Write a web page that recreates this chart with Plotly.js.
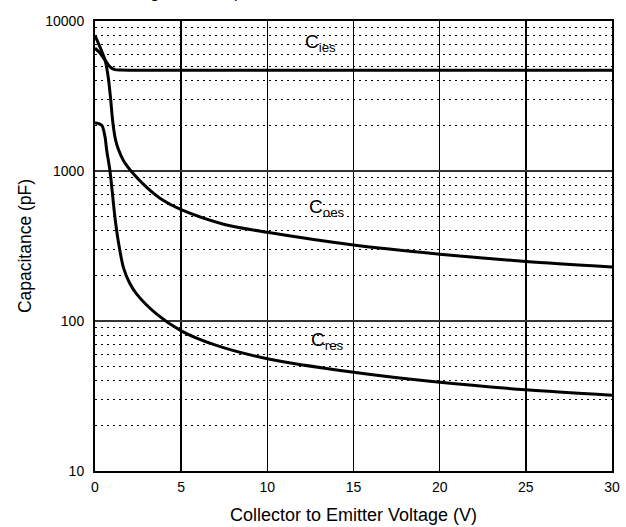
<!DOCTYPE html>
<html>
<head>
<meta charset="utf-8">
<script src="https://cdn.plot.ly/plotly-3.0.1.min.js"></script>
<style>html,body{margin:0;padding:0;background:#fff}#chart{width:626px;height:527px}</style>
</head>
<body>
<div id="chart"></div>
<script>
// Collector-to-emitter voltage (V) and capacitance (pF)
const ciesV = [0, 0.3, 0.58, 0.87, 1.16, 1.5, 2, 5, 10, 15, 20, 25, 30];
const ciesC = [6600, 6100, 5500, 4950, 4740, 4710, 4700, 4700, 4700, 4700, 4700, 4700, 4700];

const coesV = [0, 0.29, 0.58, 0.77, 0.91, 1.0, 1.1, 1.2, 1.35, 1.64, 2.2, 3.0, 3.95, 5, 7.46, 10, 15, 20, 25, 30];
const coesC = [8000, 6700, 5500, 4200, 3000, 2300, 1850, 1600, 1400, 1180, 966, 779, 638, 552, 442, 390, 321, 279, 249, 229];

const cresV = [0, 0.39, 0.58, 0.68, 0.87, 1.16, 1.35, 1.65, 2.0, 2.42, 3.58, 5, 7, 10, 15, 20, 25, 30];
const cresC = [2100, 2020, 1690, 1370, 1000, 488, 340, 227, 180, 151, 111, 86, 69, 56, 45.5, 39, 34.8, 32];

const xTicks = [0, 5, 10, 15, 20, 25, 30];
const yTicks = [10, 100, 1000, 10000];
const yTickText = ['10', '100', '1000', '10000'];

const titleText = 'Figure 13. Capacitance Characteristics';
const xTitle = 'Collector to Emitter Voltage (V)';
const yTitle = 'Capacitance (pF)';
const curveLabels = ['C<sub>ies</sub>', 'C<sub>oes</sub>', 'C<sub>res</sub>'];

const FONT = '"Liberation Sans", Arial, sans-serif';
const line = {color: '#000', width: 3, shape: 'spline', smoothing: 0.8};

const traces = [
  {x: ciesV, y: ciesC, mode: 'lines', line: line, hoverinfo: 'skip'},
  {x: coesV, y: coesC, mode: 'lines', line: line, hoverinfo: 'skip'},
  {x: cresV, y: cresC, mode: 'lines', line: line, hoverinfo: 'skip'}
];

// white label boxes (paper coordinates) and label centres
const boxes = [
  [0.3926, 0.4778, 0.9127, 0.997],
  [0.3965, 0.4990, 0.5504, 0.6238],
  [0.3965, 0.4971, 0.2504, 0.3304]
];
const labelPos = [[0.437, 0.952], [0.449, 0.585], [0.449, 0.289]];

const shapes = boxes.map(b => ({
  type: 'rect', xref: 'paper', yref: 'paper', x0: b[0], x1: b[1], y0: b[2], y1: b[3],
  fillcolor: '#fff', line: {width: 0}, layer: 'between'
}));

const annotations = curveLabels.map((t, i) => ({
  text: t, xref: 'paper', yref: 'paper', x: labelPos[i][0], y: labelPos[i][1],
  showarrow: false, xanchor: 'center', yanchor: 'middle',
  font: {family: FONT, size: 19, color: '#000'}
}));
annotations.push({
  text: titleText, xref: 'paper', yref: 'paper', x: 0.077, y: 1.063,
  xanchor: 'left', yanchor: 'middle', showarrow: false,
  font: {family: FONT, size: 16, color: '#000'}
});

const layout = {
  width: 626, height: 527,
  margin: {l: 95, r: 14, t: 21, b: 56, pad: 0},
  paper_bgcolor: '#fff', plot_bgcolor: '#fff',
  showlegend: false,
  font: {family: FONT, size: 14, color: '#000'},
  xaxis: {
    range: [0, 30], tickvals: xTicks, ticktext: xTicks.map(String),
    showgrid: true, gridcolor: '#000', gridwidth: 1.5,
    zeroline: false, showline: true, mirror: true, linecolor: '#000', linewidth: 2,
    ticks: 'outside', ticklen: 2, tickcolor: 'rgba(0,0,0,0)',
    tickfont: {family: FONT, size: 14, color: '#000'},
    title: {text: xTitle, font: {family: FONT, size: 18, color: '#000'}, standoff: 15}
  },
  yaxis: {
    type: 'log', range: [1, 4], tickvals: yTicks, ticktext: yTickText,
    showgrid: true, gridcolor: '#333', gridwidth: 1.5,
    zeroline: false, showline: true, mirror: true, linecolor: '#000', linewidth: 2,
    ticks: 'outside', ticklen: 6, tickcolor: 'rgba(0,0,0,0)',
    tickfont: {family: FONT, size: 14, color: '#000'},
    minor: {dtick: 'D1', showgrid: true, gridcolor: '#000', gridwidth: 1, griddash: '2px,4px', ticks: ''},
    title: {text: yTitle, font: {family: FONT, size: 17.5, color: '#000'}, standoff: 9}
  },
  shapes: shapes,
  annotations: annotations
};

Plotly.newPlot('chart', traces, layout, {staticPlot: true, displayModeBar: false});
</script>
</body>
</html>
